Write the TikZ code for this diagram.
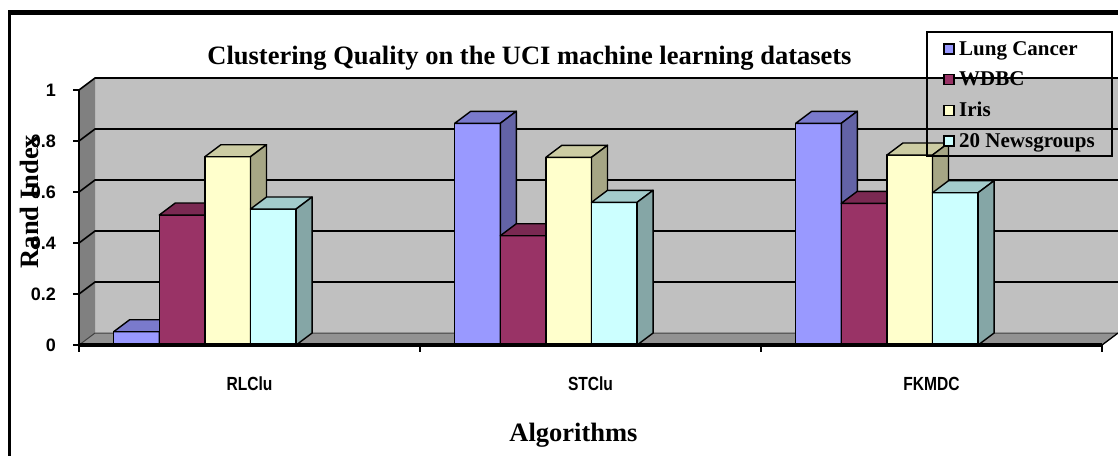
\documentclass[tikz,border=0pt]{standalone}
\usepackage{fontspec}
\setmainfont{Liberation Serif}
\newfontfamily\numfont{Liberation Sans}
\newfontfamily\catfont[FakeStretch=0.82]{Liberation Sans}
\definecolor{wallc}{HTML}{C0C0C0}
\definecolor{sidec}{HTML}{808080}
\definecolor{floorc}{HTML}{929292}
\definecolor{lung}{HTML}{9999FF}
\definecolor{wdbc}{HTML}{993366}
\definecolor{iris}{HTML}{FFFFCC}
\definecolor{ngc}{HTML}{CCFFFF}
\tikzset{
  gridln/.style={line width=1.6pt, black},
  barline/.style={line width=1.4pt, black, line join=round},
  ticklbl/.style={font=\numfont\bfseries\fontsize{18}{18}\selectfont, anchor=east, inner sep=0pt},
  catlbl/.style={font=\catfont\bfseries\fontsize{19}{19}\selectfont, anchor=base, inner sep=0pt},
  axtitle/.style={font=\bfseries\fontsize{26.5}{26.5}\selectfont, inner sep=0pt},
  legtext/.style={font=\bfseries\fontsize{21}{21}\selectfont, anchor=base west, inner sep=0pt},
  legmark/.style={draw=black, line width=1.6pt, minimum size=10pt, inner sep=0pt}
}
\begin{document}
\begin{tikzpicture}[x=1pt,y=-1pt]
\useasboundingbox (0,0) rectangle (1118,456);
% walls and floor
\fill[wallc] (95,78) rectangle (1118,333);
\fill[sidec] (79,90) -- (95,78) -- (95,333) -- (79,345) -- cycle;
\filldraw[fill=floorc, draw=black!75, line width=1pt] (79,345) -- (95,333) -- (1118,333) -- (1102,345) -- cycle;
\draw[gridln, line width=1.2pt] (1102,345) -- (1118,333);
% gridlines
\foreach \i in {1,...,5} {
  \draw[gridln] (79,345-51*\i) -- (95,333-51*\i) -- (1118,333-51*\i);
}
% bars
\foreach \c/\ya/\yb/\yc/\yd in {0/331.7/215/156.7/209, 1/123.3/235.7/157.3/202.3, 2/123.3/203.3/155/192.7} {
  \foreach \k/\yt/\col in {0/\ya/lung, 1/\yb/wdbc, 2/\yc/iris, 3/\yd/ngc} {
    \pgfmathsetmacro\xl{79+341*\c+34.7+45.6*\k}
    \pgfmathsetmacro\xr{\xl+45.6}
    \filldraw[barline, fill=\col] (\xl,345) rectangle (\xr,\yt);
    \filldraw[barline, fill=\col!80!black] (\xl,\yt) -- ++(16,-12) -- ++(45.6,0) -- ++(-16,12) -- cycle;
    \filldraw[barline, fill=\col!65!black] (\xr,\yt) -- ++(16,-12) -- (\xr+16,333) -- (\xr,345) -- cycle;
  }
}
% axes
\draw[line width=2pt] (79,90) -- (79,345);
\foreach \i in {0,...,5} { \draw[line width=1.8pt] (73,345-51*\i) -- (79,345-51*\i); }
\draw[line width=3.5pt] (79,345) -- (1102,345);
\foreach \x in {79,420,761,1102} { \draw[line width=2pt] (\x,345) -- (\x,352); }
% tick labels
\node[ticklbl] (t0) at (56,345) {0};
\node[ticklbl] (t1) at (56,294) {0.2};
\node[ticklbl] (t2) at (56,243) {0.4};
\node[ticklbl] (t3) at (56,192) {0.6};
\node[ticklbl] (t4) at (56,141) {0.8};
\node[ticklbl] (t5) at (56,90) {1};
% category labels
\node[catlbl] (c1) at (249.5,390) {RLClu};
\node[catlbl] (c2) at (590.5,390) {STClu};
\node[catlbl] (c3) at (931.5,390) {FKMDC};
% titles
\node[axtitle, anchor=base] (title) at (529.5,64) {Clustering Quality on the UCI machine learning datasets};
\node[axtitle, anchor=base] (xtitle) at (573.5,441.7) {Algorithms};
\node[axtitle, anchor=base, rotate=90] (ytitle) at (38,201.5) {Rand Index};
% legend
\draw[line width=1.6pt] (927,32) rectangle (1112,156);
\node[legmark, fill=lung] (m1) at (948.7,48.7) {};
\node[legmark, fill=wdbc] (m2) at (948.7,79.5) {};
\node[legmark, fill=iris] (m3) at (948.7,110.3) {};
\node[legmark, fill=ngc] (m4) at (948.7,141) {};
\node[legtext] (l1) at (959,55) {Lung Cancer};
\node[legtext] (l2) at (959,85.8) {WDBC};
\node[legtext] (l3) at (959,116.7) {Iris};
\node[legtext] (l4) at (959,147.5) {20 Newsgroups};
% outer frame
\draw[line width=5pt] (8,12.5) -- (1118,12.5);
\draw[line width=2.7pt] (9.7,10) -- (9.7,456);
\end{tikzpicture}
\end{document}
